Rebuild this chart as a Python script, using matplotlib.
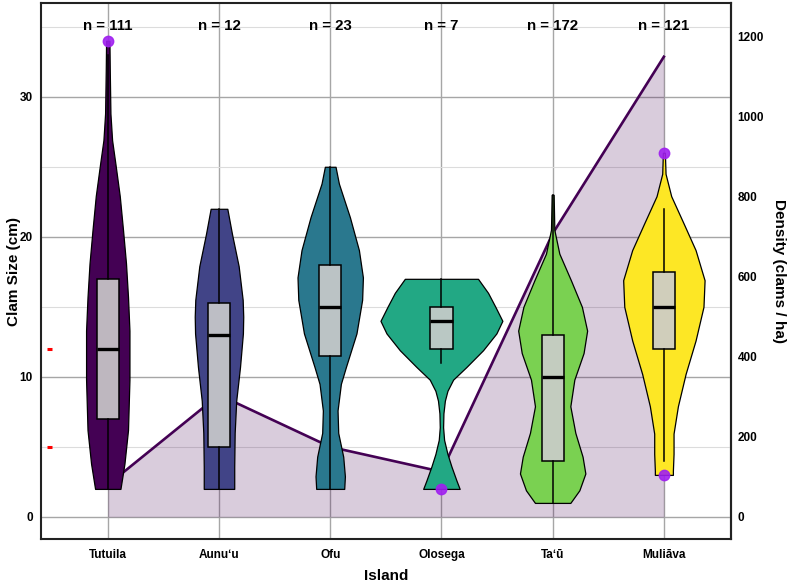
import matplotlib
matplotlib.use("Agg")
import matplotlib.pyplot as plt
import numpy as np

# Islands and sample sizes
islands = ["Tutuila", "Aunuʻu", "Ofu", "Olosega", "Taʻū", "Muliāva"]
n_clams = [111, 12, 23, 7, 172, 121]
colors = ["#440154", "#414487", "#2A788E", "#22A884", "#7AD151", "#FDE725"]

# Clam density per island (clams / ha), right axis
density = [80, 305, 175, 113, 708, 1150]
DENSITY_SCALE = 35  # clams/ha per cm on the secondary axis

# Violin outlines: clam size (cm) and half-width (category units)
tutuila_size = [2, 3.8, 6.2, 9.8, 13.3, 15.7, 18.1, 20.5, 22.9, 25.2, 26.9, 28.8, 31.9, 34]
tutuila_half = [0.114, 0.150, 0.182, 0.195, 0.195, 0.182, 0.164, 0.137, 0.108, 0.069, 0.039, 0.024, 0.018, 0.015]

aunuu_size = [2, 3.6, 6.0, 8.3, 10.7, 13.1, 14.3, 15.5, 17.9, 20.2, 22]
aunuu_half = [0.137, 0.137, 0.141, 0.155, 0.189, 0.215, 0.218, 0.213, 0.177, 0.117, 0.075]

ofu_size = [2, 2.9, 4.3, 6.0, 7.6, 9.5, 10.7, 13.1, 15.5, 17.1, 19.05, 21.4, 23.8, 25]
ofu_half = [0.126, 0.132, 0.117, 0.072, 0.066, 0.096, 0.141, 0.236, 0.287, 0.294, 0.258, 0.177, 0.078, 0.048]

olosega_size = [2, 2.6, 3.6, 4.5, 5.5, 6.4, 7.4, 8.3, 9.0, 9.8, 10.7, 11.9, 13.1, 14.0, 15.0, 16.0, 17]
olosega_half = [0.164, 0.135, 0.090, 0.054, 0.024, 0.015, 0.018, 0.031, 0.054, 0.105, 0.224, 0.374, 0.494, 0.548, 0.485, 0.419, 0.329]

tau_size = [1, 1.9, 3.1, 4.3, 6.0, 7.9, 9.8, 11.7, 13.3, 15.0, 16.9, 18.8, 20.5, 23]
tau_half = [0.159, 0.240, 0.294, 0.269, 0.204, 0.159, 0.195, 0.278, 0.310, 0.263, 0.164, 0.060, 0.015, 0.009]

muliava_size = [3, 3.3, 4.5, 5.95, 7.9, 10.2, 12.6, 15.0, 16.9, 19.05, 20.96, 22.9, 24.5, 26]
muliava_half = [0.081, 0.081, 0.087, 0.087, 0.126, 0.195, 0.285, 0.356, 0.366, 0.285, 0.177, 0.066, 0.015, 0.009]

violin_sizes = [tutuila_size, aunuu_size, ofu_size, olosega_size, tau_size, muliava_size]
violin_halves = [tutuila_half, aunuu_half, ofu_half, olosega_half, tau_half, muliava_half]

# Boxplot summaries (cm)
box_q1 = [7, 5, 11.5, 12, 4, 12]
box_med = [12, 13, 15, 14, 10, 15]
box_q3 = [17, 15.25, 18, 15, 13, 17.5]
whisk_lo = [2, 2, 2, 11, 1, 4]
whisk_hi = [33, 22, 25, 17, 23, 22]
outliers = [[34], [], [], [2], [], [26, 3]]

# Red marks on the left edge of the panel
red_marks = [12, 5]

FONT = ["Liberation Sans", "DejaVu Sans"]


def draw_violins(ax, positions):
    """Draws the violin outlines for every island."""
    for pos, sizes, halves, color in zip(positions, violin_sizes, violin_halves, colors):
        sizes = np.asarray(sizes)
        halves = np.asarray(halves)
        ax.fill_betweenx(sizes, pos - halves, pos + halves, facecolor=color,
                         edgecolor="black", linewidth=0.9, zorder=3)


def draw_boxes(ax, positions):
    """Draws the boxplots on top of the violins."""
    stats = []
    for i in range(len(positions)):
        stats.append({"med": box_med[i], "q1": box_q1[i], "q3": box_q3[i],
                      "whislo": whisk_lo[i], "whishi": whisk_hi[i],
                      "fliers": outliers[i]})
    ax.bxp(stats, positions=positions, widths=0.2, patch_artist=True,
           showcaps=False, manage_ticks=False, zorder=4,
           boxprops=dict(facecolor=(0.8, 0.8, 0.8, 0.9), edgecolor="black", linewidth=1.1),
           medianprops=dict(color="black", linewidth=2.4),
           whiskerprops=dict(color="black", linewidth=1.1),
           flierprops=dict(marker="o", markersize=7.5, markerfacecolor="#A020F0",
                           markeredgecolor="#A020F0", alpha=0.9))


def style_labels(labels, size):
    for label in labels:
        label.set_fontweight("bold")
        label.set_fontsize(size)
        label.set_family(FONT)


def plot_chart():
    fig = plt.figure(figsize=(7.89, 5.84), dpi=100)
    ax = fig.add_axes([0.052, 0.0765, 0.874, 0.9185])
    positions = np.arange(1, len(islands) + 1)

    # Density area + line, converted to the left axis units
    dens_cm = np.asarray(density) / DENSITY_SCALE
    ax.fill_between(positions, dens_cm, 0, color="#440154", alpha=0.2, linewidth=0, zorder=1)
    ax.plot(positions, dens_cm, color="#440154", linewidth=1.9, zorder=2)

    draw_violins(ax, positions)
    draw_boxes(ax, positions)

    ax.hlines(red_marks, 0.452, 0.503, color="red", linewidth=2.2, zorder=5)

    for pos, n in zip(positions, n_clams):
        ax.text(pos, 35.05, f"n = {n}", ha="center", va="center", fontsize=10.8,
                fontweight="bold", family=FONT, zorder=6)

    ax.set_xlim(0.4, 6.6)
    ax.set_ylim(-1.6, 36.7)
    ax.set_xticks(positions)
    ax.set_xticklabels(islands)
    ax.set_yticks([0, 10, 20, 30])
    ax.set_yticks([5, 15, 25, 35], minor=True)

    ax.set_axisbelow(True)
    ax.grid(which="major", color="#a6a6a6", linewidth=1.0)
    ax.grid(which="minor", axis="y", color="#dcdcdc", linewidth=0.8)
    ax.tick_params(which="both", length=0)
    ax.tick_params(axis="x", pad=7)
    ax.tick_params(axis="y", pad=6)
    style_labels(ax.get_xticklabels() + ax.get_yticklabels(), 8.5)

    for spine in ax.spines.values():
        spine.set_color("#222222")
        spine.set_linewidth(1.5)

    ax.set_xlabel("Island", fontsize=11, fontweight="bold", family=FONT, labelpad=6)
    ax.set_ylabel("Clam Size (cm)", fontsize=11, fontweight="bold", family=FONT, labelpad=-1)

    sec = ax.secondary_yaxis("right", functions=(lambda y: y * DENSITY_SCALE,
                                                 lambda d: d / DENSITY_SCALE))
    sec.set_yticks([0, 200, 400, 600, 800, 1000, 1200])
    sec.tick_params(length=0, pad=5)
    style_labels(sec.get_yticklabels(), 8.5)
    sec.spines["right"].set_color("#222222")
    sec.spines["right"].set_linewidth(1.5)
    sec.set_ylabel("Density (clams / ha)", fontsize=11, fontweight="bold", family=FONT,
                   rotation=270, labelpad=16)

    fig.savefig("out.png", dpi=100)


if __name__ == "__main__":
    plot_chart()
